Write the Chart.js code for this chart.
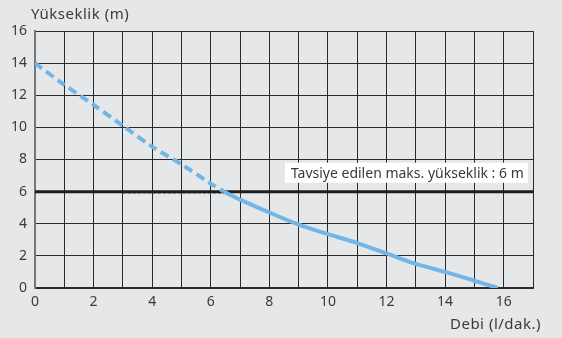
<!DOCTYPE html>
<html>
<head>
<meta charset="utf-8">
<script src="https://cdn.jsdelivr.net/npm/chart.js@4.4.1/dist/chart.umd.min.js"></script>
<style>
  html, body { margin: 0; padding: 0; background: #e6e7e9; }
  #wrap { width: 562px; height: 338px; }
</style>
</head>
<body>
<div id="wrap"><canvas id="pumpChart" width="562" height="338"></canvas></div>
<script>
// Pump curve data
const dashedFlow = [0, 1, 2, 3, 4, 5, 6, 6.45];
const dashedHead = [14, 12.65, 11.4, 10.1, 8.8, 7.7, 6.5, 6.0];
const solidFlow = [6.45, 7, 8, 9, 10, 11, 12, 13, 14, 15, 15.8];
const solidHead = [6.0, 5.5, 4.7, 3.95, 3.35, 2.8, 2.15, 1.5, 1.0, 0.45, 0];
const maxFlow = [0, 17];
const maxHead = [6, 6];
const guideFlow = [3, 6.45];
const guideHead = [5.9, 5.9];
const xTicks = [0, 2, 4, 6, 8, 10, 12, 14, 16];
const yTicks = [0, 2, 4, 6, 8, 10, 12, 14, 16];
const labelText = 'Tavsiye edilen maks. yükseklik : 6 m';

const FONT = '"Noto Sans", Lato, sans-serif';
const toPoints = (xs, ys) => xs.map((x, i) => ({ x: x, y: ys[i] }));

const extras = {
    id: 'extras',
    beforeDraw(chart) {
        const ctx = chart.ctx;
        ctx.save();
        ctx.fillStyle = '#e6e7e9';
        ctx.fillRect(0, 0, chart.width, chart.height);
        ctx.restore();
    },
    afterDatasetsDraw(chart) {
        const ctx = chart.ctx;
        const x = chart.scales.x, y = chart.scales.y;
        // label box
        const bx = x.getPixelForValue(8.53), bx2 = x.getPixelForValue(16.83);
        const by = y.getPixelForValue(7.8), by2 = y.getPixelForValue(6.55);
        ctx.save();
        ctx.fillStyle = '#ffffff';
        ctx.fillRect(bx, by, bx2 - bx, by2 - by);
        ctx.fillStyle = '#3a3a3a';
        ctx.font = '14px ' + FONT;
        ctx.textBaseline = 'middle';
        ctx.fillText(labelText, bx + 6, (by + by2) / 2 + 1);
        // axis titles
        ctx.font = '15px ' + FONT;
        ctx.letterSpacing = '0.5px';
        ctx.textBaseline = 'alphabetic';
        ctx.fillText('Yükseklik (m)', 31, 19);
        ctx.textAlign = 'right';
        ctx.fillText('Debi (l/dak.)', 541, 329);
        ctx.restore();
    }
};

new Chart(document.getElementById('pumpChart').getContext('2d'), {
    type: 'line',
    data: {
        datasets: [
            {
                data: toPoints(dashedFlow, dashedHead),
                borderColor: '#72b5e7',
                borderWidth: 4,
                borderDash: [9, 5],
                pointRadius: 0,
                tension: 0.3,
                order: 1
            },
            {
                data: toPoints(solidFlow, solidHead),
                borderColor: '#72b5e7',
                borderWidth: 4,
                pointRadius: 0,
                tension: 0.3,
                order: 1
            },
            {
                data: toPoints(maxFlow, maxHead),
                borderColor: '#1c1c1c',
                borderWidth: 3,
                pointRadius: 0,
                order: 3
            },
            {
                data: toPoints(guideFlow, guideHead),
                borderColor: '#8a8a8a',
                borderWidth: 1,
                borderDash: [3, 2],
                pointRadius: 0,
                order: 4
            }
        ]
    },
    options: {
        responsive: false,
        animation: false,
        layout: { padding: { left: 0, right: 29, top: 31, bottom: 0 } },
        plugins: { legend: { display: false }, tooltip: { enabled: false } },
        scales: {
            x: {
                type: 'linear',
                min: 0,
                max: 17,
                afterFit: s => { s.height = 50; },
                afterBuildTicks: s => { s.ticks = Array.from({ length: 18 }, (_, i) => ({ value: i })); },
                ticks: {
                    color: '#3a3a3a',
                    font: { family: FONT, size: 14 },
                    padding: 6,
                    maxRotation: 0,
                    autoSkip: false,
                    callback: v => xTicks.includes(v) ? String(v) : ''
                },
                grid: { color: '#2a2a2a', lineWidth: 1, drawTicks: false },
                border: { color: '#2a2a2a', width: 2 }
            },
            y: {
                type: 'linear',
                min: 0,
                max: 16,
                afterFit: s => { s.width = 35; },
                afterBuildTicks: s => { s.ticks = yTicks.map(v => ({ value: v })); },
                ticks: {
                    color: '#3a3a3a',
                    font: { family: FONT, size: 14 },
                    padding: 8
                },
                grid: { color: '#2a2a2a', lineWidth: 1, drawTicks: false },
                border: { color: '#777', width: 2 }
            }
        }
    },
    plugins: [extras]
});
</script>
</body>
</html>
